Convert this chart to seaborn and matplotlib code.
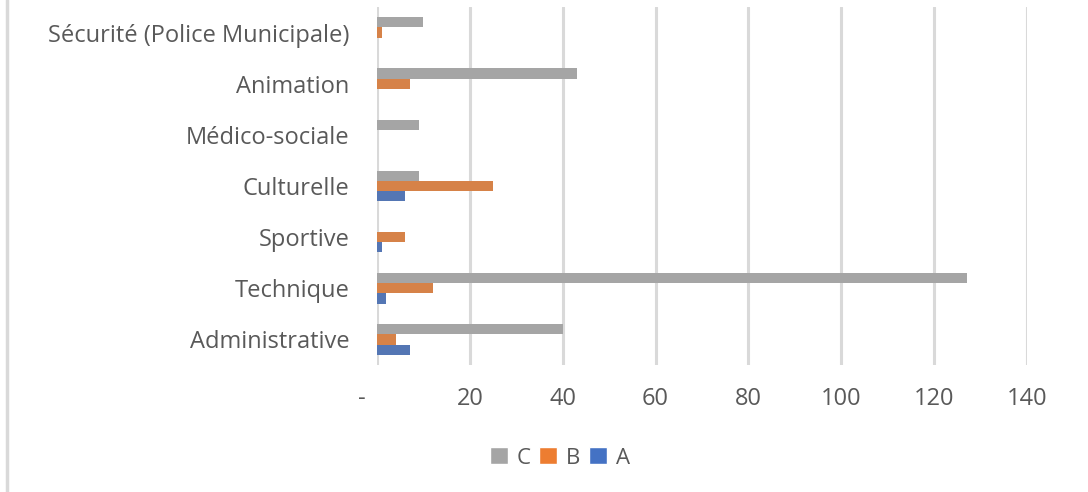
import pandas as pd
import matplotlib.pyplot as plt
import matplotlib.transforms as mtransforms
from matplotlib.lines import Line2D
from matplotlib.patches import Patch
import seaborn as sns

# data
categories = ["Sécurité (Police Municipale)", "Animation", "Médico-sociale",
              "Culturelle", "Sportive", "Technique", "Administrative"]
values_c = [10, 43, 9, 9, 0, 127, 40]
values_b = [1, 7, 0, 25, 6, 12, 4]
values_a = [0, 0, 0, 6, 1, 2, 7]
series = ["C", "B", "A"]
colors = {"C": "#A5A5A5", "B": "#ED7D31", "A": "#4472C4"}
x_ticks = [0, 20, 40, 60, 80, 100, 120, 140]
x_labels = ["-", "20", "40", "60", "80", "100", "120", "140"]

df = pd.DataFrame({
    "categorie": categories * 3,
    "serie": ["C"] * 7 + ["B"] * 7 + ["A"] * 7,
    "valeur": values_c + values_b + values_a,
})

sns.set_style("white")
plt.rcParams["font.family"] = ["Open Sans", "DejaVu Sans"]
text_color = "#595959"

fig = plt.figure(figsize=(10.88, 4.92), dpi=100)
ax = fig.add_axes([377 / 1088, 1 - 365 / 492, 650 / 1088, 358 / 492])

sns.barplot(data=df, y="categorie", x="valeur", hue="serie",
            order=categories, hue_order=series, palette=colors,
            orient="h", width=0.6, ax=ax, legend=False, linewidth=0)

ax.set_xlim(0, 140)
ax.set_ylim(len(categories) - 0.5, -0.5)
ax.set_xticks(x_ticks)
ax.set_xticklabels(x_labels)
ax.grid(axis="x", color="#D9D9D9", linewidth=2.2)
ax.set_axisbelow(True)
for s in ax.spines.values():
    s.set_visible(False)
ax.set_xlabel("")
ax.set_ylabel("")
ax.tick_params(axis="y", length=0, pad=20, labelsize=17, labelcolor=text_color)
ax.tick_params(axis="x", length=0, pad=16, labelsize=17, labelcolor=text_color)

# shift the "-" zero label a bit left, like Excel's accounting format
lbl0 = ax.get_xticklabels()[0]
lbl0.set_transform(lbl0.get_transform() + mtransforms.ScaledTranslation(-15 / 100, 0, fig.dpi_scale_trans))

handles = [Patch(facecolor=colors[s], label=s) for s in series]
fig.legend(handles=handles, loc="center", bbox_to_anchor=(560 / 1088, 1 - 458 / 492),
           ncol=3, frameon=False, handlelength=0.8, handleheight=0.8,
           handletextpad=0.4, columnspacing=0.4, fontsize=16, labelcolor=text_color)

# light chart-area border on the left
fig.add_artist(Line2D([7 / 1088, 7 / 1088], [0, 1], color="#D9D9D9", linewidth=2.5,
                      transform=fig.transFigure))

fig.savefig("out.png", dpi=100)
